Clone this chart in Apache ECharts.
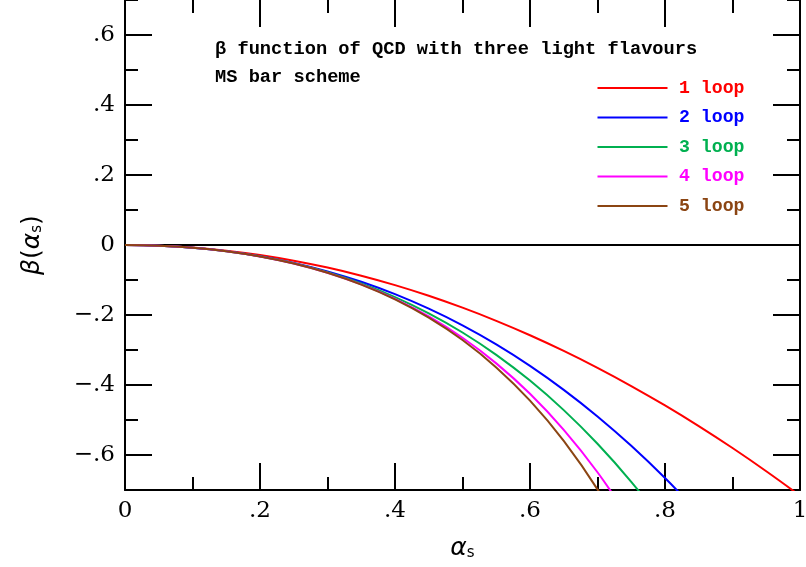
<!DOCTYPE html>
<html>
<head>
<meta charset="utf-8">
<script src="https://cdn.jsdelivr.net/npm/echarts@6/dist/echarts.min.js"></script>
<style>
html,body{margin:0;padding:0;background:#fff;}
#chart{width:806px;height:567px;}
</style>
</head>
<body>
<div id="chart"></div>
<script>
// alpha_s sample points
var alpha = [0, 0.05, 0.10, 0.15, 0.20, 0.25, 0.30, 0.35, 0.40, 0.45, 0.50, 0.55, 0.60, 0.65, 0.70, 0.75, 0.80, 0.85, 0.90, 0.95, 1.00];
// beta(alpha_s) values, per loop order
var loop1 = [0, -0.0018, -0.0072, -0.0161, -0.0286, -0.0448, -0.0645, -0.0877, -0.1146, -0.1450, -0.1791, -0.2167, -0.2578, -0.3026, -0.3509, -0.4029, -0.4584, -0.5175, -0.5801, -0.6464, -0.7162];
var loop2 = [0, -0.0018, -0.0076, -0.0175, -0.0319, -0.0511, -0.0754, -0.1051, -0.1405, -0.1820, -0.2297, -0.2841, -0.3454, -0.4139, -0.4899, -0.5738, -0.6659, -0.7663];
var loop3 = [0, -0.0018, -0.0076, -0.0177, -0.0324, -0.0524, -0.0780, -0.1100, -0.1488, -0.1953, -0.2500, -0.3138, -0.3874, -0.4718, -0.5679, -0.6765, -0.7988];
var loop4 = [0, -0.0018, -0.0076, -0.0177, -0.0326, -0.0528, -0.0792, -0.1125, -0.1538, -0.2042, -0.2651, -0.3382, -0.4251, -0.5281, -0.6493, -0.7916];
var loop5 = [0, -0.0018, -0.0076, -0.0177, -0.0326, -0.0529, -0.0795, -0.1133, -0.1555, -0.2077, -0.2716, -0.3497, -0.4445, -0.5595, -0.6983, -0.8656];

var seriesNames = ['1 loop', '2 loop', '3 loop', '4 loop', '5 loop'];
var seriesColors = ['#ff0000', '#0000ff', '#00b050', '#ff00ff', '#8b4513'];

var xTickValues = [0, 0.2, 0.4, 0.6, 0.8, 1];
var xTickLabels = ['0', '.2', '.4', '.6', '.8', '1'];
var yTickValues = [-0.6, -0.4, -0.2, 0, 0.2, 0.4, 0.6];
var yTickLabels = ['\u2212.6', '\u2212.4', '\u2212.2', '0', '.2', '.4', '.6'];

var titleLine1 = '\u03b2 function of QCD with three light flavours';
var titleLine2 = 'MS bar scheme';

function lookup(vals, labels, v) {
  for (var i = 0; i < vals.length; i++) {
    if (Math.abs(vals[i] - v) < 1e-9) return labels[i];
  }
  return '';
}
function pairs(ys) {
  return ys.map(function (y, i) { return [alpha[i], y]; });
}

var black = '#000';
var monoFont = 'Liberation Mono';
var tickFont = 'DejaVu Serif';

var allSeries = [loop1, loop2, loop3, loop4, loop5].map(function (ys, k) {
  var s = {
    name: seriesNames[k],
    type: 'line',
    data: pairs(ys),
    xAxisIndex: 0,
    yAxisIndex: 0,
    symbol: 'none',
    showSymbol: false,
    smooth: 0.4,
    clip: true,
    lineStyle: { color: seriesColors[k], width: 2 },
    itemStyle: { color: seriesColors[k] },
    z: 3
  };
  if (k === 0) {
    s.markLine = {
      silent: true,
      symbol: 'none',
      label: { show: false },
      lineStyle: { color: black, width: 2, type: 'solid' },
      data: [{ yAxis: 0 }],
      z: 2
    };
  }
  return s;
});

var chart = echarts.init(document.getElementById('chart'), null, { renderer: 'canvas' });

var tickLine = { color: black, width: 2 };

chart.setOption({
  animation: false,
  backgroundColor: '#fff',
  grid: { left: 125, right: 6, top: 0, bottom: 77, containLabel: false, outerBoundsMode: 'none' },
  legend: {
    orient: 'vertical',
    left: 597.5,
    top: 78,
    padding: 0,
    itemGap: 9.5,
    itemWidth: 70,
    itemHeight: 2,
    icon: 'rect',
    selectedMode: false,
    data: seriesNames.map(function (n, k) {
      return { name: n, textStyle: { color: seriesColors[k] } };
    }),
    textStyle: {
      fontFamily: monoFont,
      fontWeight: 'bold',
      fontSize: 18.2,
      lineHeight: 20,
      padding: [0, 0, 0, 6.5]
    }
  },
  graphic: [
    {
      type: 'text', left: 215, top: 40, z: 10,
      style: { text: titleLine1, fontFamily: monoFont, fontWeight: 'bold', fontSize: 18.7, fill: black }
    },
    {
      type: 'text', left: 215, top: 68, z: 10,
      style: { text: titleLine2, fontFamily: monoFont, fontWeight: 'bold', fontSize: 18.7, fill: black }
    }
  ],
  xAxis: [
    {
      type: 'value', position: 'bottom', min: 0, max: 1, interval: 0.2,
      axisLine: { show: true, onZero: false, lineStyle: { color: black, width: 2 } },
      axisTick: { show: true, inside: true, length: 27, lineStyle: tickLine },
      minorTick: { show: true, splitNumber: 2, length: 13, lineStyle: tickLine },
      splitLine: { show: false },
      axisLabel: {
        show: true, margin: 10, color: black, fontFamily: tickFont, fontSize: 23,
        formatter: function (v) { return lookup(xTickValues, xTickLabels, v); }
      },
      name: '{a|\u03b1}{s|s}',
      nameLocation: 'middle',
      nameGap: 46,
      nameTextStyle: {
        color: black,
        rich: {
          a: { fontFamily: 'DejaVu Sans', fontStyle: 'italic', fontSize: 25, color: black },
          s: { fontFamily: 'DejaVu Sans', fontSize: 15, color: black, verticalAlign: 'bottom', padding: [10, 0, 0, 0] }
        }
      }
    },
    {
      type: 'value', position: 'top', min: 0, max: 1, interval: 0.2,
      axisLine: { show: false, onZero: false },
      axisTick: { show: true, inside: true, length: 27, lineStyle: tickLine },
      minorTick: { show: true, splitNumber: 2, length: 13, lineStyle: tickLine },
      splitLine: { show: false },
      axisLabel: { show: false }
    }
  ],
  yAxis: [
    {
      type: 'value', position: 'left', min: -0.7, max: 0.7,
      axisLine: { show: true, onZero: false, lineStyle: { color: black, width: 2 } },
      axisTick: { show: true, inside: true, length: 27, lineStyle: tickLine, customValues: yTickValues },
      splitLine: { show: false },
      axisLabel: {
        show: true, margin: 10, color: black, fontFamily: tickFont, fontSize: 23,
        customValues: yTickValues,
        formatter: function (v) { return lookup(yTickValues, yTickLabels, v); }
      },
      name: '{b|\u03b2}{p|(}{a|\u03b1}{s|s}{p|)}',
      nameLocation: 'middle',
      nameRotate: 90,
      nameGap: 80,
      nameTextStyle: {
        color: black,
        rich: {
          b: { fontFamily: 'DejaVu Sans', fontStyle: 'italic', fontSize: 25, color: black },
          p: { fontFamily: 'DejaVu Sans', fontSize: 25, color: black },
          a: { fontFamily: 'DejaVu Sans', fontStyle: 'italic', fontSize: 25, color: black },
          s: { fontFamily: 'DejaVu Sans', fontSize: 15, color: black, verticalAlign: 'bottom', padding: [10, 0, 0, 0] }
        }
      }
    },
    {
      type: 'value', position: 'left', min: -0.7, max: 0.7, interval: 0.1,
      axisLine: { show: false, onZero: false },
      axisTick: { show: true, inside: true, length: 13, lineStyle: tickLine },
      splitLine: { show: false },
      axisLabel: { show: false }
    },
    {
      type: 'value', position: 'right', min: -0.7, max: 0.7,
      axisLine: { show: true, onZero: false, lineStyle: { color: black, width: 2 } },
      axisTick: { show: true, inside: true, length: 27, lineStyle: tickLine, customValues: yTickValues },
      splitLine: { show: false },
      axisLabel: { show: false, customValues: yTickValues }
    },
    {
      type: 'value', position: 'right', min: -0.7, max: 0.7, interval: 0.1,
      axisLine: { show: false, onZero: false },
      axisTick: { show: true, inside: true, length: 13, lineStyle: tickLine },
      splitLine: { show: false },
      axisLabel: { show: false }
    }
  ],
  series: allSeries
});
</script>
</body>
</html>
